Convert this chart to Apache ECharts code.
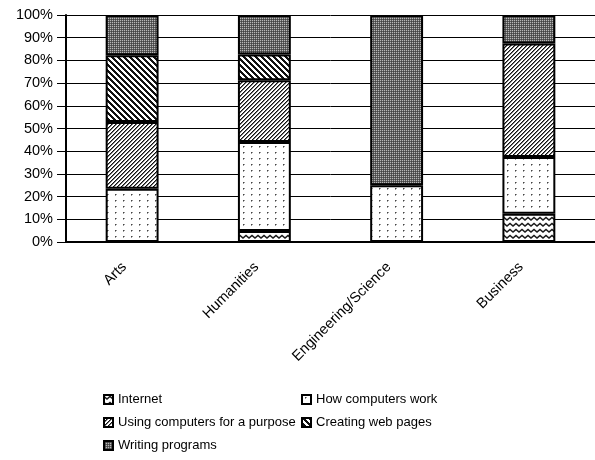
<!DOCTYPE html>
<html>
<head>
<meta charset="utf-8">
<script src="https://cdn.jsdelivr.net/npm/echarts@6/dist/echarts.min.js"></script>
<style>
  html, body { margin: 0; padding: 0; background: #fff; }
  #chart { width: 595px; height: 460px; }
</style>
</head>
<body>
<div id="chart"></div>
<script>
// Share of students (%) choosing each topic, by field of study
const categories = ['Arts', 'Humanities', 'Engineering/Science', 'Business'];
const internet      = [0,    4.9,  0,  12.5];
const howWork       = [23.5, 39.2, 25, 25];
const usingPurpose  = [29.4, 27.2, 0,  50];
const creatingWeb   = [29.4, 11.3, 0,  0];
const writingProgs  = [17.7, 17.4, 75, 12.5];
const yTicks = [0, 10, 20, 30, 40, 50, 60, 70, 80, 90, 100];

const FONT = 'Liberation Sans, Arial, sans-serif';

// --- fill patterns drawn on small tiles ---
function tile(w, h, draw) {
  const c = document.createElement('canvas');
  c.width = w; c.height = h;
  const ctx = c.getContext('2d');
  ctx.fillStyle = '#fff';
  ctx.fillRect(0, 0, w, h);
  draw(ctx);
  return { image: c, repeat: 'repeat' };
}
const wavyFill = tile(12, 6, ctx => {
  ctx.strokeStyle = '#1a1a1a'; ctx.lineWidth = 1.6;
  ctx.beginPath();
  ctx.moveTo(-3, 4); ctx.lineTo(0, 1.5); ctx.lineTo(3, 4); ctx.lineTo(6, 1.5); ctx.lineTo(9, 4); ctx.lineTo(12, 1.5); ctx.lineTo(15, 4);
  ctx.stroke();
});
const dotFill = tile(8, 6, ctx => {
  ctx.fillStyle = '#444';
  ctx.fillRect(3, 2, 1, 1);
  ctx.fillStyle = '#999';
  ctx.fillRect(4, 2, 1, 1);
  ctx.fillRect(3, 3, 1, 1);
});
const fwdHatch = tile(4, 4, ctx => {
  ctx.fillStyle = '#111';
  for (let i = 0; i < 4; i++) ctx.fillRect(3 - i, i, 1, 1);
  ctx.fillStyle = '#777';
  for (let i = 0; i < 4; i++) ctx.fillRect((4 - i) % 4, i, 1, 1);
});
const backHatch = tile(6, 6, ctx => {
  ctx.fillStyle = '#111';
  for (let i = 0; i < 6; i++) {
    ctx.fillRect(i, i, 1, 1);
    ctx.fillRect((i + 1) % 6, i, 1, 1);
    ctx.fillRect((i + 2) % 6, i, 1, 1);
  }
});
const checkFill = tile(2, 2, ctx => {
  ctx.fillStyle = '#5e5e5e'; ctx.fillRect(0, 0, 2, 2);
  ctx.fillStyle = '#b8b8b8'; ctx.fillRect(0, 0, 1, 1);
  ctx.fillStyle = '#444'; ctx.fillRect(1, 1, 1, 1);
});

const seriesDefs = [
  { name: 'Internet', data: internet, fill: wavyFill },
  { name: 'How computers work', data: howWork, fill: dotFill },
  { name: 'Using computers for a purpose', data: usingPurpose, fill: fwdHatch },
  { name: 'Creating web pages', data: creatingWeb, fill: backHatch },
  { name: 'Writing programs', data: writingProgs, fill: checkFill }
];

const series = seriesDefs.map(d => ({
  name: d.name,
  type: 'bar',
  stack: 'total',
  barWidth: '40%',
  data: d.data.map(v => (v === 0 ? '-' : v)),
  itemStyle: { color: d.fill, borderColor: '#000', borderWidth: 2 },
  emphasis: { disabled: true },
  animation: false
}));

// legend entries laid out in two columns
const legendPos = [
  { left: 103, top: 393 },
  { left: 301, top: 393 },
  { left: 103, top: 416 },
  { left: 301, top: 416 },
  { left: 103, top: 439 }
];
const legend = seriesDefs.map((d, i) => ({
  data: [d.name],
  left: legendPos[i].left,
  top: legendPos[i].top,
  padding: 0,
  itemWidth: 9,
  itemHeight: 9,
  itemGap: 0,
  selectedMode: false,
  icon: 'rect',
  itemStyle: { borderColor: '#000', borderWidth: 2 },
  textStyle: { fontFamily: FONT, fontSize: 13, color: '#000' }
}));

const chart = echarts.init(document.getElementById('chart'), null, { renderer: 'canvas' });
chart.setOption({
  animation: false,
  backgroundColor: '#fff',
  grid: { left: 66, top: 15, width: 533, height: 227, containLabel: false },
  legend: legend,
  xAxis: {
    type: 'category',
    data: categories,
    axisLine: { lineStyle: { color: '#000', width: 2 } },
    axisTick: { alignWithLabel: false, length: 4, lineStyle: { color: '#000' } },
    axisLabel: {
      rotate: 45, interval: 0, margin: 15,
      fontFamily: FONT, fontSize: 14.5, color: '#000',
      padding: [0, 11, 0, 0]
    },
    splitLine: { show: false }
  },
  yAxis: {
    type: 'value',
    min: yTicks[0], max: yTicks[yTicks.length - 1], interval: 10,
    axisLine: { show: true, lineStyle: { color: '#000', width: 2 } },
    axisTick: { show: true, length: 9, lineStyle: { color: '#000' } },
    axisLabel: { formatter: '{value}%', fontFamily: FONT, fontSize: 14.5, color: '#000', margin: 13 },
    splitLine: { lineStyle: { color: '#000', width: 1 } }
  },
  series: series
});
</script>
</body>
</html>
